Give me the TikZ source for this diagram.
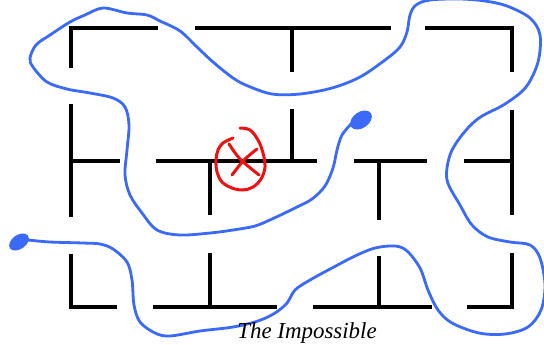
\documentclass[tikz,border=0pt]{standalone}
\usepackage{fontspec}
\setmainfont{Liberation Serif}
\usetikzlibrary{calc}
\definecolor{pathblue}{HTML}{3A6AF7}
\definecolor{markred}{HTML}{F01010}
\tikzset{
    wall/.style={line width=3.6bp, draw=black, line cap=butt, line join=miter},
    route/.style={line width=2.8bp, draw=pathblue, line cap=round, line join=round},
    cross/.style={line width=3bp, draw=markred, line cap=round, line join=round},
    blob/.style={fill=pathblue}
}
\begin{document}
\begin{tikzpicture}[x=1bp, y=-1bp]
    \useasboundingbox (0,0) rectangle (544,344);
    % maze walls
    \draw[wall] (71,68) -- (71,28) -- (158,28);
    \draw[wall] (195,28) -- (391,28);
    \draw[wall] (425,28) -- (512,28) -- (512,72);
    \draw[wall] (292,28) -- (292,72);
    \draw[wall] (292,109) -- (292,161);
    \draw[wall] (71,104) -- (71,217);
    \draw[wall] (71,161) -- (120,161);
    \draw[wall] (156,161) -- (317,161);
    \draw[wall] (210,161) -- (210,215);
    \draw[wall] (354,161) -- (427,161);
    \draw[wall] (379,161) -- (379,220);
    \draw[wall] (464,161) -- (512,161);
    \draw[wall] (512,110) -- (512,215);
    \draw[wall] (71,254) -- (71,307) -- (117,307);
    \draw[wall] (153,307) -- (277,307);
    \draw[wall] (210,253) -- (210,307);
    \draw[wall] (313,307) -- (432,307);
    \draw[wall] (379,256) -- (379,307);
    \draw[wall] (467,307) -- (512,307) -- (512,253);
    % goal mark
    \draw[cross] plot[smooth, tension=0.6] coordinates {(240,128) (250,130) (258,140) (263,153) (265,167) (261,179) (253,187) (243,190) (232,188) (222,182) (217,172) (216,160) (218,150) (223,143) (233,138)};
    \draw[cross] plot[smooth] coordinates {(229,144) (240,159) (259,175)};
    \draw[cross] plot[smooth] coordinates {(257,149) (244,160) (232,175)};
    % drawn route
    \coordinate (start) at (19,242);
    \coordinate (finish) at (361,120);
    \fill[blob, rotate around={35:(start)}] (start) ellipse (11 and 7);
    \fill[blob, rotate around={35:(finish)}] (finish) ellipse (12 and 8);
    \draw[route] plot[smooth, tension=0.55] coordinates {(28,240) (50,242) (83,243) (100,244) (113,249) (127,262) (132,280) (134,305) (140,322) (155,333) (170,336) (200,331) (233,327) (258,321) (275,313) (287,303) (295,290) (310,280) (332,268) (355,256) (375,248) (395,246) (407,251) (420,268) (428,290) (438,310) (452,323) (479,333) (505,334) (528,327) (541,310) (545,285) (540,258) (530,245) (510,242) (488,237) (472,225) (460,205) (447,180) (450,155) (462,135) (479,118) (505,104) (526,87) (538,62) (540,35) (530,18) (507,6) (485,1) (460,-1) (430,0) (416,5) (410,15) (407,32) (400,47) (385,60) (360,77) (332,88) (300,94) (272,94) (248,86) (233,78) (213,62) (197,47) (180,31) (160,21) (147,15) (127,13) (103,8) (85,15) (70,22) (50,35) (36,45) (30,58) (33,67) (47,82) (67,89) (90,93) (113,98) (125,107) (129,125) (127,150) (125,175) (130,195) (142,213) (157,230) (180,235) (210,233) (233,230) (255,226) (272,219) (295,208) (312,199) (325,186) (333,168) (337,150) (342,135) (352,123)};
    % caption
    \node[font=\itshape\fontsize{23}{23}\selectfont, anchor=base, inner sep=0pt] (title) at (307,338) {The Impossible};
\end{tikzpicture}
\end{document}
